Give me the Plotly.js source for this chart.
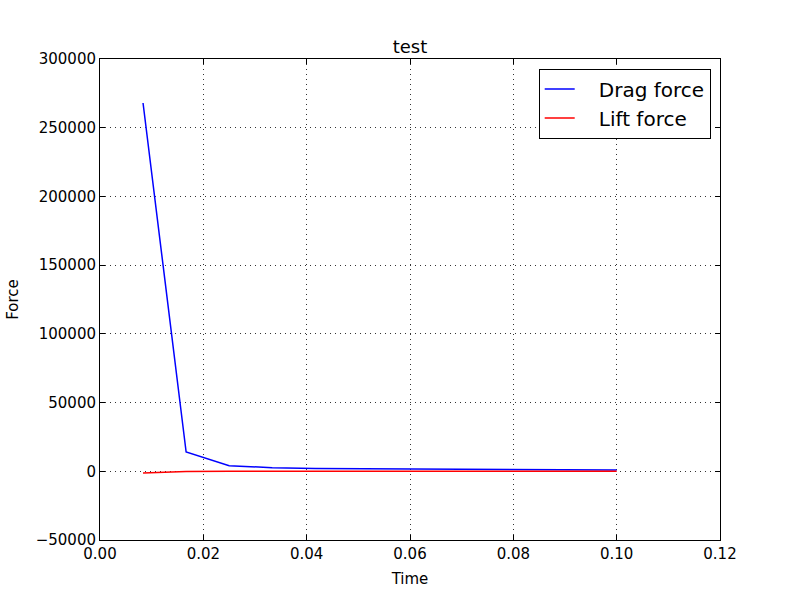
<!DOCTYPE html>
<html>
<head>
<meta charset="utf-8">
<script src="https://cdn.plot.ly/plotly-3.0.1.min.js"></script>
<style>
  html, body { margin: 0; padding: 0; background: #fff; }
  #chart { width: 800px; height: 600px; }
</style>
</head>
<body>
<div id="chart"></div>
<script>
// Time steps and force series
const time = [0.00833, 0.01667, 0.025, 0.03333, 0.04167, 0.05, 0.05833, 0.06667, 0.075, 0.08333, 0.09167, 0.1];
const dragForce = [268000, 14000, 4100, 2600, 2000, 1800, 1600, 1400, 1250, 1150, 1050, 1000];
const liftForce = [-1200, -200, 100, 80, 50, 20, 0, -20, -30, -40, -40, -50];
const seriesNames = ["Drag force", "Lift force"];

const xTicks = [0, 0.02, 0.04, 0.06, 0.08, 0.10, 0.12];
const xTickText = ["0.00", "0.02", "0.04", "0.06", "0.08", "0.10", "0.12"];
const yTicks = [-50000, 0, 50000, 100000, 150000, 200000, 250000, 300000];
const yTickText = ["\u221250000", "0", "50000", "100000", "150000", "200000", "250000", "300000"];

const FONT = "DejaVu Sans, sans-serif";
// matplotlib leaves a wider gap between the legend line and its label
const GAP = "\u00a0\u00a0\u00a0";

const AXIS = {
  showline: true,
  linecolor: "black",
  linewidth: 1,
  mirror: "ticks",
  ticks: "inside",
  ticklen: 5,
  tickcolor: "black",
  showgrid: true,
  gridcolor: "#333",
  gridwidth: 1,
  griddash: "1px,4px",
  zeroline: false,
  tickfont: { family: FONT, size: 15, color: "black" },
};

Plotly.newPlot(
  "chart",
  [
    {
      type: "scatter", mode: "lines", name: GAP + seriesNames[0],
      x: time, y: dragForce,
      line: { color: "#0000ff", width: 1.5 },
    },
    {
      type: "scatter", mode: "lines", name: GAP + seriesNames[1],
      x: time, y: liftForce,
      line: { color: "#ff0000", width: 1.5 },
    },
  ],
  {
    width: 800,
    height: 600,
    paper_bgcolor: "white",
    plot_bgcolor: "white",
    font: { family: FONT, size: 15, color: "black" },
    margin: { l: 100, r: 80, t: 59, b: 60 },
    showlegend: true,
    title: {
      text: "test",
      font: { family: FONT, size: 18, color: "black" },
      x: 0.5125, xanchor: "center",
      y: 0.912, yanchor: "bottom",
    },
    xaxis: {
      ...AXIS,
      range: [0, 0.12],
      tickvals: xTicks,
      ticktext: xTickText,
      title: { text: "Time", font: { family: FONT, size: 15 }, standoff: 11 },
    },
    yaxis: {
      ...AXIS,
      range: [-50000, 300000],
      tickvals: yTicks,
      ticktext: yTickText,
      title: { text: "Force", font: { family: FONT, size: 15 }, standoff: 13 },
    },
    legend: {
      x: 0.985, xanchor: "right",
      y: 0.98, yanchor: "top",
      bgcolor: "white",
      bordercolor: "black",
      borderwidth: 1,
      font: { family: FONT, size: 20, color: "black" },
      itemwidth: 30,
      tracegroupgap: 0,
    },
  },
  { displayModeBar: false, staticPlot: true }
);
</script>
</body>
</html>
